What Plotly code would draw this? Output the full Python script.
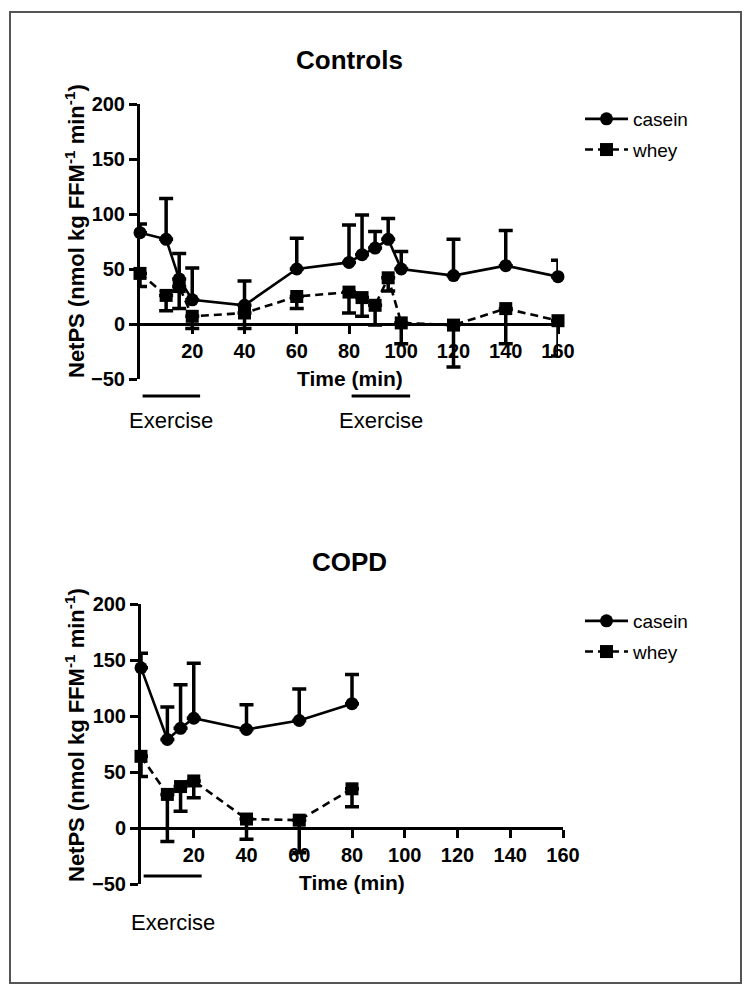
import plotly.graph_objects as go

# ---------------- data ----------------
time_controls = [0, 10, 15, 20, 40, 60, 80, 85, 90, 95, 100, 120, 140, 160]
casein_controls = [83, 77, 41, 22, 17, 50, 56, 63, 69, 77, 50, 44, 53, 43]
casein_controls_err = [8, 37, 23, 29, 22, 28, 34, 36, 15, 19, 16, 33, 32, 15]
whey_controls = [46, 26, 34, 7, 10, 25, 29, 24, 17, 42, 1, -1, 14, 3]
whey_controls_err = [12, 14, 20, 11, 14, 11, 19, 17, 18, 12, 19, 38, 32, 32]

time_copd = [0, 10, 15, 20, 40, 60, 80]
casein_copd = [143, 79, 89, 98, 88, 96, 111]
casein_copd_err = [13, 29, 39, 49, 22, 28, 26]
whey_copd = [64, 30, 37, 42, 8, 7, 35]
whey_copd_err = [18, 42, 22, 15, 18, 29, 16]

x_tick_values = [20, 40, 60, 80, 100, 120, 140, 160]
y_tick_values = [-50, 0, 50, 100, 150, 200]

exercise_controls_start = [1, 81]
exercise_controls_end = [23, 103.4]
exercise_copd_start = [1]
exercise_copd_end = [23]

# ---------------- layout helpers ----------------
W, H = 751, 995
FONT = "Arial, 'Liberation Sans', sans-serif"


def px(x):
    return x / W


def py(y):
    return 1 - y / H


fig = go.Figure()


def add_series(xs, ys, err, name, symbol, dash, xa, ya, up, legend, show):
    fig.add_trace(go.Scatter(
        x=xs, y=ys, name=name, mode="lines+markers",
        xaxis=xa, yaxis=ya, legend=legend, legendgroup=legend + name,
        showlegend=show, cliponaxis=False,
        line=dict(color="black", width=2.6, dash=dash),
        marker=dict(symbol=symbol, size=13, color="black"),
        error_y=dict(type="data", symmetric=False,
                     array=err if up else [0] * len(err),
                     arrayminus=[0] * len(err) if up else err,
                     color="black", thickness=3.5, width=7),
    ))


DASH = "8px,5px"
add_series(time_controls, casein_controls, casein_controls_err, "casein", "circle", "solid", "x", "y", True, "legend", True)
add_series(time_controls, whey_controls, whey_controls_err, "whey", "square", DASH, "x", "y", False, "legend", True)
add_series(time_copd, casein_copd, casein_copd_err, "casein", "circle", "solid", "x2", "y2", True, "legend2", True)
add_series(time_copd, whey_copd, whey_copd_err, "whey", "square", DASH, "x2", "y2", False, "legend2", True)

tickfont = dict(family=FONT, size=20, color="black", weight="bold")
axis_common = dict(showgrid=False, zeroline=False, showline=True, linecolor="black",
                   linewidth=3, ticks="outside", ticklen=8, tickwidth=3,
                   tickcolor="black", tickfont=tickfont, automargin=False)

legend_font = dict(family=FONT, size=19, color="black")
fig.update_layout(
    width=W, height=H,
    margin=dict(l=0, r=0, t=0, b=0, pad=0, autoexpand=False),
    paper_bgcolor="white", plot_bgcolor="rgba(0,0,0,0)",
    xaxis=dict(domain=[px(140), px(558)], range=[0, 160], anchor="free",
               position=py(324), tickvals=x_tick_values, **axis_common),
    yaxis=dict(domain=[py(379), py(104)], range=[-50, 200], anchor="x",
               tickvals=y_tick_values, **axis_common),
    xaxis2=dict(domain=[px(141), px(563)], range=[0, 160], anchor="free",
                position=py(828), tickvals=x_tick_values, **axis_common),
    yaxis2=dict(domain=[py(884), py(604)], range=[-50, 200], anchor="x2",
                tickvals=y_tick_values, **axis_common),
    legend=dict(x=px(580), y=py(100), xanchor="left", yanchor="top",
                font=legend_font, itemwidth=43,
                tracegroupgap=3, bgcolor="rgba(0,0,0,0)"),
    legend2=dict(x=px(580), y=py(602), xanchor="left", yanchor="top",
                 font=legend_font, itemwidth=43,
                 tracegroupgap=3, bgcolor="rgba(0,0,0,0)"),
    showlegend=True,
)

annotations = []
shapes = []


def text(x, y, s, size, bold=True, angle=0, xref="paper"):
    annotations.append(dict(
        x=x, y=py(y), xref=xref, yref="paper", text=s, showarrow=False,
        xanchor="center", yanchor="middle", textangle=angle,
        font=dict(family=FONT, size=size, color="black",
                  weight="bold" if bold else "normal")))


ytitle = "NetPS (nmol kg FFM<sup>-1</sup> min<sup>-1</sup>)"
# Controls panel
text(px(349), 60, "Controls", 26)
text(px(350), 378, "Time (min)", 21)
text(px(75), 231, ytitle, 22, angle=-90)
for s, e in zip(exercise_controls_start, exercise_controls_end):
    shapes.append(dict(type="line", xref="x", yref="paper", x0=s, x1=e,
                       y0=py(396), y1=py(396), line=dict(color="black", width=3)))
    text((s + e) / 2, 420, "Exercise", 22, bold=False, xref="x")

# COPD panel
text(px(349), 562, "COPD", 26)
text(px(352), 882, "Time (min)", 21)
text(px(75), 735, ytitle, 22, angle=-90)
for s, e in zip(exercise_copd_start, exercise_copd_end):
    shapes.append(dict(type="line", xref="x2", yref="paper", x0=s, x1=e,
                       y0=py(876), y1=py(876), line=dict(color="black", width=3)))
    text((s + e) / 2, 922, "Exercise", 22, bold=False, xref="x2")

# outer frame
shapes.append(dict(type="rect", xref="paper", yref="paper",
                   x0=px(10), x1=px(741), y0=py(983), y1=py(12),
                   line=dict(color="#555555", width=2)))

fig.update_layout(annotations=annotations, shapes=shapes)
fig.write_html(
    "out.html",
    config={"displayModeBar": False},
    post_script="document.body.style.margin='0';document.body.style.overflow='hidden';",
)
